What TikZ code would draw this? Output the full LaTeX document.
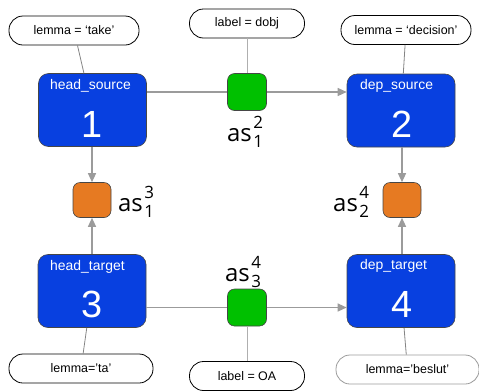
\documentclass[tikz,border=0pt]{standalone}
\usepackage{fontspec}
\setmainfont{Liberation Sans}
\newfontfamily\asfont{Open Sans}
\usetikzlibrary{arrows.meta}
\definecolor{nblue}{RGB}{8,64,224}
\definecolor{ngreen}{RGB}{0,192,0}
\definecolor{norange}{RGB}{230,122,34}
\definecolor{lgray}{RGB}{155,155,155}
\definecolor{bord}{RGB}{70,70,70}
\newcommand\asl[2]{{\asfont\fontsize{24}{28}\selectfont as\kern1.5bp\fontsize{17}{17}\selectfont\rlap{\raisebox{13bp}{#1}}\raisebox{-6bp}{#2}}}
\begin{document}
\begin{tikzpicture}[x=1bp,y=-1bp,
 tok/.style={draw=bord, fill=nblue, rounded corners=10bp, minimum width=108bp, minimum height=73bp, line width=0.6bp},
 tokl/.style={text=white, font=\fontsize{14}{14}\selectfont, inner sep=0, anchor=west},
 tokn/.style={text=white, font=\fontsize{38}{38}\selectfont, inner sep=0},
 rel/.style={draw=bord, fill=ngreen, rounded corners=7bp, minimum width=39bp, minimum height=37bp, line width=0.6bp},
 al/.style={draw=bord, fill=norange, rounded corners=7bp, minimum width=38bp, minimum height=35bp, line width=0.6bp},
 attr/.style={draw=black, rounded corners=14bp, minimum height=29bp, font=\fontsize{12.5}{12.5}\selectfont, line width=0.8bp, inner sep=0},
 asn/.style={anchor=base west, inner sep=0},
 conn/.style={draw=lgray, line width=1.2bp},
 lconn/.style={draw=lgray!85!black, line width=0.8bp},
 arr/.style={conn, -{Triangle[length=9bp,width=8bp]}}
]
\useasboundingbox (0,0) rectangle (479,390);
% token boxes
\node[tok] (b1) at (92.5,110) {};
\node[tok] (b2) at (401,110.5) {};
\node[tok] (b3) at (92,291) {};
\node[tok] (b4) at (401,291) {};
\node[tokl] (b1l) at (50,86) {head\_source};
\node[tokl] (b2l) at (360,86) {dep\_source};
\node[tokl] (b3l) at (50,267) {head\_target};
\node[tokl] (b4l) at (360,266) {dep\_target};
\node[tokn] (b1n) at (92,124) {1};
\node[tokn] (b2n) at (402,124) {2};
\node[tokn] (b3n) at (92,304) {3};
\node[tokn] (b4n) at (402,304) {4};
% relation boxes
\node[rel] (g1) at (247,92) {};
\node[rel] (g2) at (247,307.5) {};
% alignment boxes
\node[al] (o1) at (92,200) {};
\node[al] (o2) at (402,200) {};
% attributes
\node[attr, minimum width=130bp] (e1) at (74,30.5) {lemma = ‘take’};
\node[attr, minimum width=115bp] (ed) at (247,23.5) {label = dobj};
\node[attr, minimum width=130bp] (e2) at (406,30) {lemma = ‘decision’};
\node[attr, minimum width=144bp] (e3) at (81,368.5) {lemma=’ta’};
\node[attr, minimum width=115bp] (eo) at (247,376) {label = OA};
\node[attr, minimum width=143bp, draw=lgray] (e4) at (407.5,369.5) {lemma=’beslut’};
% as labels
\node[asn] (a21) at (227,141) {\asl{2}{1}};
\node[asn] (a31) at (118,211) {\asl{3}{1}};
\node[asn] (a42) at (333,211) {\asl{4}{2}};
\node[asn] (a43) at (225,281) {\asl{4}{3}};
% connectors
\draw[conn] (b1.east |- g1.west) -- (g1.west);
\draw[arr] (g1.east) -- (b2.west |- g1.east);
\draw[conn] (b3.east |- g2.west) -- (g2.west);
\draw[arr] (g2.east) -- (b4.west |- g2.east);
\draw[arr] (o1.north |- b1.south) -- (o1.north);
\draw[arr] (o1.south |- b3.north) -- (o1.south);
\draw[arr] (o2.north |- b2.south) -- (o2.north);
\draw[arr] (o2.south |- b4.north) -- (o2.south);
\draw[conn, line width=1bp, draw=lgray!80] (ed) -- (g1);
\draw[conn, line width=1bp, draw=lgray!80] (eo) -- (g2);
\draw[lconn] (e1) -- (b1);
\draw[lconn] (e2) -- (b2);
\draw[lconn] (e3) -- (b3);
\draw[lconn] (e4) -- (b4);
\end{tikzpicture}
\end{document}
